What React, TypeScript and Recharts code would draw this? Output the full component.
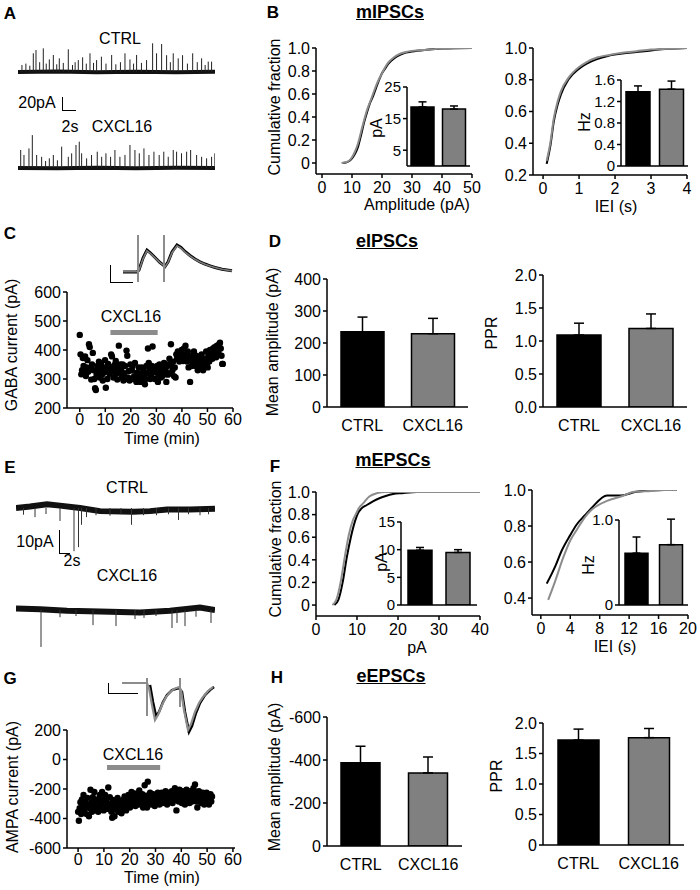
import React from 'react';
import {
  LineChart,
  Line,
  XAxis,
  YAxis,
  BarChart,
  Bar,
  Cell,
  ErrorBar,
  ScatterChart,
  Scatter,
  ReferenceLine,
} from 'recharts';

type Pt = [number, number];
type Frame = { x0: number; y0: number; x1: number; y1: number };

// ---------- data ----------
const groups = ['CTRL', 'CXCL16'];

// A: mIPSC traces, spikes as [time s, amplitude pA]
const ipscCtrlSpikes: Pt[] = [
  [0.6, 10], [1.2, 12], [1.8, 9], [2.33, 26.7], [2.74, 31.4], [3.3, 14], [3.85, 33.8], [4.3, 12],
  [4.77, 18], [5.38, 24.3], [5.9, 11], [6.29, 19.5], [6.9, 13], [7.66, 32.4], [8.3, 10], [8.7, 14],
  [9.18, 17], [9.84, 21], [10.4, 12], [10.96, 26.7], [11.5, 13], [11.97, 17], [12.7, 21.9], [13.4, 12],
  [14.26, 24.3], [14.9, 11], [15.6, 14], [16.29, 26.7], [17.05, 18], [17.6, 12], [18.06, 24.3], [18.8, 13],
  [19.58, 17], [20.5, 41], [21.1, 26.7], [21.87, 40], [22.63, 24], [23.2, 14], [23.64, 26.7], [24.4, 19.5],
  [25.06, 24], [25.8, 12], [26.6, 26.7], [27.3, 14], [27.96, 19.5], [28.5, 10], [28.97, 14.8], [29.48, 14.8],
];
const ipscCxclSpikes: Pt[] = [
  [0.41, 25.7], [0.91, 18.6], [1.67, 28], [2.18, 47], [2.84, 18.6], [3.6, 16], [4.2, 10], [4.77, 13.8],
  [5.38, 18.6], [6.0, 11], [6.65, 30.5], [7.66, 16], [8.17, 21], [8.83, 32.9], [9.33, 37.6], [9.69, 21],
  [10.45, 13.8], [11.2, 18.6], [12.07, 23.3], [12.74, 16], [13.39, 21], [14.1, 16], [14.76, 25.7], [15.52, 16],
  [16.29, 18.6], [17.05, 32.9], [17.81, 25.7], [18.47, 21], [19.18, 28], [19.94, 18.6], [20.7, 23.3], [21.5, 18.6],
  [22.2, 23.3], [22.88, 16], [23.64, 25.7], [24.15, 23.3], [24.9, 21], [25.68, 23.3], [26.29, 25.7], [27.2, 18.6],
  [27.96, 16], [28.72, 13.8], [29.48, 16], [29.98, 21],
];
const ipscCtrlBase: Pt[] = [[0, 0], [6, 0.6], [12, -0.4], [18, 0.3], [24, -0.3], [30, 0.2]];
const ipscCxclBase: Pt[] = [[0, 0], [6, -0.4], [12, 0.4], [18, -0.3], [24, 0.3], [30, 0]];

// B: mIPSC cumulative distributions [value, fraction]
const ipscAmpCtrl: Pt[] = [
  [7, 0], [8, 0.005], [9, 0.015], [10, 0.04], [11, 0.08], [12, 0.14], [13, 0.24], [14, 0.35], [15, 0.44],
  [16, 0.52], [17, 0.58], [18, 0.65], [19, 0.72], [20, 0.78], [21, 0.82], [22, 0.86], [24, 0.91], [26, 0.94],
  [28, 0.96], [30, 0.97], [35, 0.985], [40, 0.995], [50, 1],
];
const ipscAmpCxcl: Pt[] = [
  [6.5, 0], [7.5, 0.005], [9, 0.02], [10, 0.05], [11, 0.1], [12, 0.17], [13, 0.27], [14, 0.37], [15, 0.46],
  [16, 0.53], [17, 0.6], [18, 0.67], [19, 0.73], [20, 0.78], [21, 0.83], [22, 0.87], [24, 0.92], [26, 0.95],
  [28, 0.965], [30, 0.975], [35, 0.985], [40, 0.995], [50, 1],
];
const ipscIeiCtrl: Pt[] = [
  [0.1, 0.27], [0.2, 0.38], [0.3, 0.54], [0.4, 0.64], [0.5, 0.71], [0.7, 0.8], [1, 0.87], [1.2, 0.9],
  [1.5, 0.93], [1.8, 0.95], [2.2, 0.965], [2.6, 0.975], [3, 0.985], [3.5, 0.995], [4, 1],
];
const ipscIeiCxcl: Pt[] = [
  [0.1, 0.29], [0.2, 0.4], [0.3, 0.56], [0.4, 0.66], [0.5, 0.73], [0.7, 0.81], [1, 0.88], [1.2, 0.91],
  [1.5, 0.94], [1.8, 0.955], [2.2, 0.97], [2.6, 0.98], [3, 0.99], [3.5, 0.995], [4, 1],
];
const ipscAmpMean = [18.7, 18.0];
const ipscAmpSem = [1.6, 1.0];
const ipscFreqMean = [1.38, 1.43];
const ipscFreqSem = [0.11, 0.15];

// C: evoked IPSC example [ms, pA] and time course [min, pA]
const eipscCtrlTrace: Pt[] = [
  [0, 0], [14, 0], [16, 20], [20, 140], [24, 220], [27, 195], [32, 145], [37, 95], [40, 72], [42, 55],
  [45, 100], [49, 200], [54, 270], [58, 245], [62, 205], [67, 165], [72, 130], [77, 102], [82, 80],
  [87, 62], [92, 45], [99, 28], [109, 12],
];
const eipscCxclTrace: Pt[] = [
  [0, 2], [14, 2], [16, 18], [20, 132], [24, 212], [27, 190], [32, 141], [37, 93], [40, 71], [42, 53],
  [45, 96], [49, 193], [54, 263], [58, 239], [62, 199], [67, 161], [72, 127], [77, 100], [82, 78],
  [87, 60], [92, 44], [99, 27], [109, 11],
];
const eipscArtifact1: Pt[] = [[15, 370], [15, -100]];
const eipscArtifact2: Pt[] = [[41, 370], [41, -100]];
const gabaPoints: Pt[] = [
  [0, 452], [0.3, 385], [0.6, 316], [0.9, 330], [1.2, 372], [1.5, 345], [1.8, 320], [2.1, 378], [2.4, 310],
  [2.7, 340], [3, 365], [3.3, 325], [3.6, 420], [3.9, 410], [4.2, 335], [4.5, 298], [4.8, 350], [5.1, 390],
  [5.4, 330], [5.7, 300], [6, 268], [6.3, 262], [6.6, 315], [6.9, 345], [7.2, 325], [7.5, 360], [7.8, 305],
  [8.1, 330], [8.4, 350], [8.7, 315], [9, 295], [9.3, 340], [9.6, 322], [9.9, 365], [10.2, 270], [10.5, 335],
  [10.8, 300], [11.1, 352], [11.4, 345], [11.7, 318], [12, 330], [12.3, 385], [12.6, 378], [12.9, 340],
  [13.2, 305], [13.5, 325], [13.8, 350], [14.1, 362], [14.4, 318], [14.7, 298], [15, 340], [15.3, 415],
  [15.6, 322], [15.9, 350], [16.2, 335], [16.5, 305], [16.8, 350], [17.1, 295], [17.4, 320], [17.7, 345],
  [18, 300], [18.3, 398], [18.6, 380], [18.9, 305], [19.2, 328], [19.5, 295], [19.8, 350], [20.1, 300],
  [20.4, 330], [20.7, 345], [21, 300], [21.3, 310], [21.6, 355], [21.9, 300], [22.2, 290], [22.5, 322],
  [22.8, 300], [23.1, 340], [23.4, 305], [23.7, 290], [24, 318], [24.3, 340], [24.6, 300], [24.9, 330],
  [25.2, 310], [25.5, 282], [25.8, 300], [26.1, 345], [26.4, 320], [26.7, 405], [27, 355], [27.3, 330],
  [27.6, 300], [27.9, 315], [28.2, 345], [28.5, 412], [28.8, 325], [29.1, 340], [29.4, 300], [29.7, 322],
  [30, 330], [30.3, 345], [30.6, 290], [30.9, 315], [31.2, 350], [31.5, 330], [31.8, 305], [32.1, 340],
  [32.4, 310], [32.7, 325], [33, 355], [33.3, 318], [33.6, 330], [33.9, 290], [34.2, 345], [34.5, 315],
  [34.8, 350], [35.1, 370], [35.4, 320], [35.7, 420], [36, 345], [36.3, 330], [36.6, 360], [36.9, 310],
  [37.2, 340], [37.5, 305], [37.8, 385], [38.1, 370], [38.4, 395], [38.7, 380], [39, 360], [39.3, 390],
  [39.6, 375], [39.9, 400], [40.2, 385], [40.5, 362], [40.8, 405], [41.1, 375], [41.4, 415], [41.7, 385],
  [42, 360], [42.3, 395], [42.6, 340], [42.9, 375], [43.2, 290], [43.5, 365], [43.8, 345], [44.1, 380],
  [44.4, 350], [44.7, 395], [45, 370], [45.3, 345], [45.6, 380], [45.9, 355], [46.2, 330], [46.5, 360],
  [46.8, 340], [47.1, 375], [47.4, 350], [47.7, 385], [48, 345], [48.3, 330], [48.6, 365], [48.9, 345],
  [49.2, 370], [49.5, 395], [49.8, 355], [50.1, 340], [50.4, 380], [50.7, 360], [51, 400], [51.3, 375],
  [51.6, 392], [51.9, 370], [52.2, 405], [52.5, 385], [52.8, 410], [53.1, 395], [53.4, 375], [53.7, 415],
  [54, 400], [54.3, 390], [54.6, 420], [54.9, 425], [55.2, 405], [55.5, 380], [55.8, 352], [56, 352],
];
const gabaDrug = [12, 30.5];
const gabaDrugLevel = 460;

// D: eIPSC amplitude and paired-pulse ratio
const eipscAmpMean = [235, 229];
const eipscAmpSem = [46, 48];
const eipscPprMean = [1.09, 1.19];
const eipscPprSem = [0.18, 0.22];

// E: mEPSC traces [time s, pA]
const epscCtrlBase: Pt[] = [
  [0, 0], [2.8, 0.6], [6.2, 1.6], [8.8, 1.0], [12.8, 0], [16.8, -1.3], [23.4, -1.6], [26.8, -1.3],
  [30.2, -0.6], [34.8, -0.6], [39.8, -0.3],
];
const epscCtrlSpikes: Pt[] = [
  [1.5, -2.8], [3.8, -3.8], [6, -2.5], [8.8, -5.4], [11.6, -18], [12.5, -16.3], [13.1, -7], [14.1, -3.8],
  [16, -3], [18.8, -3.2], [21, -2.6], [23.1, -7], [25.5, -3], [28.1, -3], [30.5, -2.6], [32.5, -5],
  [34.5, -2.6], [36.8, -3], [38.5, -2.6],
];
const epscCxclBase: Pt[] = [
  [0, 0.6], [4.8, 0.3], [10.2, -0.3], [16.8, -0.6], [24.8, -1.0], [30.8, -0.3], [36.8, 1.0], [39.8, 0],
];
const epscCxclSpikes: Pt[] = [
  [5, -15.4], [8.8, -3], [12, -2.5], [15.4, -6.3], [20, -6.7], [23.8, -3.8], [25.6, -3.3], [28, -2.5],
  [31.2, -7.5], [32.2, -5.4], [33.8, -6.7], [36, -2.8], [39, -5.4],
];

// F: mEPSC cumulative distributions
const epscAmpCtrl: Pt[] = [
  [4.5, 0], [5.5, 0.05], [6.5, 0.2], [7.5, 0.42], [8.5, 0.6], [9.5, 0.74], [10.2, 0.81], [11, 0.85],
  [12.4, 0.885], [14, 0.92], [15.6, 0.947], [17, 0.965], [18.8, 0.982], [21, 0.99], [24.6, 1], [40, 1],
];
const epscAmpCxcl: Pt[] = [
  [4, 0], [5, 0.05], [6, 0.2], [7, 0.42], [8, 0.62], [9, 0.75], [9.8, 0.81], [10.5, 0.86], [11.5, 0.9],
  [13, 0.96], [14.9, 0.99], [17, 1], [40, 1],
];
const epscIeiCtrl: Pt[] = [
  [0.8, 0.48], [2, 0.58], [2.8, 0.66], [4, 0.75], [4.9, 0.81], [6, 0.86], [6.9, 0.9], [9, 0.97],
  [10.9, 0.97], [13, 0.99], [16.5, 1], [18.5, 1],
];
const epscIeiCxcl: Pt[] = [
  [1, 0.39], [2, 0.5], [3, 0.62], [4, 0.72], [4.9, 0.78], [6, 0.85], [6.9, 0.89], [9, 0.94],
  [11, 0.965], [12.7, 0.99], [15, 0.995], [16.8, 1], [18.5, 1],
];
const epscAmpMean = [9.9, 9.5];
const epscAmpSem = [0.5, 0.5];
const epscFreqMean = [0.61, 0.71];
const epscFreqSem = [0.19, 0.3];

// G: evoked EPSC example and time course
const eepscCxclTrace: Pt[] = [
  [0, 0], [25, 0], [27, -50], [30, -220], [33, -370], [36, -320], [40, -220], [44, -140], [48, -90],
  [52, -60], [57, -40], [59, -70], [62, -270], [66, -470], [69, -410], [73, -290], [77, -200], [81, -140],
  [86, -80], [91, -40],
];
const eepscCtrlTrace: Pt[] = [
  [28, -20], [31, -190], [34, -330], [37, -290], [41, -190], [45, -120], [50, -70], [57, -50], [60, -90],
  [63, -290], [67, -490], [70, -430], [74, -300], [78, -200], [83, -120], [88, -70], [92, -40],
];
const eepscArtifact1: Pt[] = [[25, 50], [25, -330]];
const eepscArtifact2: Pt[] = [[58, 50], [58, -240]];
const ampaPoints: Pt[] = [
  [0, -355], [0.3, -415], [0.6, -330], [0.9, -290], [1.2, -370], [1.5, -270], [1.8, -320], [2.1, -240],
  [2.4, -340], [2.7, -290], [3, -300], [3.3, -370], [3.6, -260], [3.9, -310], [4.2, -385], [4.5, -330],
  [4.8, -205], [5.1, -290], [5.4, -355], [5.7, -255], [6, -300], [6.3, -220], [6.6, -325], [6.9, -275],
  [7.2, -345], [7.5, -300], [7.8, -355], [8.1, -265], [8.4, -240], [8.7, -325], [9, -290], [9.3, -220],
  [9.6, -300], [9.9, -345], [10.2, -270], [10.5, -240], [10.8, -310], [11.1, -290], [11.4, -335],
  [11.7, -190], [12, -300], [12.3, -255], [12.6, -325], [12.9, -355], [13.2, -395], [13.5, -275],
  [13.8, -310], [14.1, -385], [14.4, -340], [14.7, -285], [15, -320], [15.3, -260], [15.6, -355],
  [15.9, -300], [16.2, -335], [16.5, -285], [16.8, -365], [17.1, -310], [17.4, -275], [17.7, -335],
  [18, -250], [18.3, -300], [18.6, -345], [18.9, -275], [19.2, -315], [19.5, -240], [19.8, -290],
  [20.1, -325], [20.4, -265], [20.7, -220], [21, -300], [21.3, -255], [21.6, -285], [21.9, -230],
  [22.2, -315], [22.5, -265], [22.8, -295], [23.1, -245], [23.4, -305], [23.7, -210], [24, -280],
  [24.3, -255], [24.6, -305], [24.9, -235], [25.2, -325], [25.5, -265], [25.8, -175], [26.1, -295],
  [26.4, -245], [26.7, -325], [27, -150], [27.3, -270], [27.6, -305], [27.9, -225], [28.2, -285],
  [28.5, -255], [28.8, -305], [29.1, -235], [29.4, -285], [29.7, -315], [30, -245], [30.3, -295],
  [30.6, -255], [30.9, -225], [31.2, -285], [31.5, -305], [31.8, -245], [32.1, -275], [32.4, -225],
  [32.7, -295], [33, -255], [33.3, -235], [33.6, -285], [33.9, -215], [34.2, -265], [34.5, -305],
  [34.8, -235], [35.1, -275], [35.4, -225], [35.7, -285], [36, -245], [36.3, -215], [36.6, -295],
  [36.9, -255], [37.2, -235], [37.5, -195], [37.8, -275], [38.1, -345], [38.4, -245], [38.7, -225],
  [39, -285], [39.3, -205], [39.6, -265], [39.9, -235], [40.2, -295], [40.5, -215], [40.8, -265],
  [41.1, -235], [41.4, -305], [41.7, -245], [42, -205], [42.3, -275], [42.6, -225], [42.9, -265],
  [43.2, -295], [43.5, -215], [43.8, -255], [44.1, -285], [44.4, -235], [44.7, -195], [45, -265],
  [45.3, -170], [45.6, -225], [45.9, -285], [46.2, -325], [46.5, -245], [46.8, -215], [47.1, -275],
  [47.4, -235], [47.7, -295], [48, -255], [48.3, -225], [48.6, -275], [48.9, -305], [49.2, -245],
  [49.5, -285], [49.8, -225], [50.1, -275], [50.4, -245], [50.7, -305], [51, -255], [51.3, -235],
  [51.6, -285], [51.9, -250],
];
const ampaDrug = [11.2, 31.8];
const ampaDrugLevel = -54;

// H: eEPSC amplitude and PPR
const eepscAmpMean = [-387, -340];
const eepscAmpSem = [77, 74];
const eepscPprMean = [1.72, 1.76];
const eepscPprSem = [0.18, 0.15];

const timeTicks = [0, 10, 20, 30, 40, 50, 60];

// ---------- helpers ----------
const FONT = '"Liberation Sans", Arial, Helvetica, sans-serif';
const LINE_GRAY = '#8c8c8c';
const BAR_GRAY = '#808080';
const M = { top: 10, right: 14, bottom: 0, left: 0 };
const axisLine = { stroke: '#000', strokeWidth: 1.5 };
const tickLine = { stroke: '#000', strokeWidth: 1.5 };
const tickFont = (size: number) => ({ fill: '#000', fontSize: size, fontFamily: FONT });
const fix1 = (v: number) => (v === 0 ? '0' : v.toFixed(1));
const fix1z = (v: number) => v.toFixed(1);

const toLine = (pts: Pt[]) => pts.map(([t, v]) => ({ t, v }));
const toSpikes = (pts: Pt[]) =>
  pts.flatMap(([t, a]) => [{ t, v: 0 }, { t, v: a }, { t, v: null }]);

function boxOf(f: Frame, yw: number, xh: number) {
  return {
    left: f.x0 - yw,
    top: f.y0 - M.top,
    width: f.x1 - f.x0 + yw + M.right,
    height: f.y1 - f.y0 + M.top + xh,
  };
}

function Txt({ x, y, children, size = 16, bold = false, underline = false, rotate = false }: any) {
  return (
    <div
      style={{
        position: 'absolute',
        left: x,
        top: y,
        transform: `translate(-50%, -50%)${rotate ? ' rotate(-90deg)' : ''}`,
        fontSize: size,
        fontWeight: bold ? 700 : 400,
        textDecoration: underline ? 'underline' : 'none',
        whiteSpace: 'nowrap',
        lineHeight: 1,
        color: '#000',
      }}
    >
      {children}
    </div>
  );
}

function ScaleBar({ x, y0, y1, x1 }: { x: number; y0: number; y1: number; x1: number }) {
  return (
    <div
      style={{
        position: 'absolute',
        left: x,
        top: y0,
        width: x1 - x,
        height: y1 - y0,
        borderLeft: '1.5px solid #000',
        borderBottom: '1.5px solid #000',
      }}
    />
  );
}

type Series = { data: any[]; stroke: string; width: number };

function TraceChart({ frame, xDomain, yDomain, series }: { frame: Frame; xDomain: number[]; yDomain: number[]; series: Series[] }) {
  return (
    <div style={{ position: 'absolute', left: frame.x0, top: frame.y0 }}>
      <LineChart width={frame.x1 - frame.x0} height={frame.y1 - frame.y0} margin={{ top: 0, right: 0, bottom: 0, left: 0 }}>
        <XAxis type="number" dataKey="t" domain={xDomain} hide allowDataOverflow />
        <YAxis type="number" domain={yDomain} hide allowDataOverflow />
        {series.map((s, i) => (
          <Line
            key={i}
            data={s.data}
            dataKey="v"
            type="linear"
            stroke={s.stroke}
            strokeWidth={s.width}
            dot={false}
            connectNulls={false}
            isAnimationActive={false}
          />
        ))}
      </LineChart>
    </div>
  );
}

function CumChart({ frame, xDomain, xTicks, yDomain, yTicks, black, gray }: any) {
  const yw = 46;
  const xh = 30;
  const b = boxOf(frame, yw, xh);
  return (
    <div style={{ position: 'absolute', left: b.left, top: b.top }}>
      <LineChart width={b.width} height={b.height} margin={M}>
        <XAxis
          type="number"
          dataKey="x"
          domain={xDomain}
          ticks={xTicks}
          interval={0}
          allowDataOverflow
          height={xh}
          axisLine={axisLine}
          tickLine={tickLine}
          tickSize={4}
          tickMargin={4}
          tick={tickFont(16)}
        />
        <YAxis
          type="number"
          domain={yDomain}
          ticks={yTicks}
          interval={0}
          allowDataOverflow
          width={yw}
          tickFormatter={fix1}
          axisLine={axisLine}
          tickLine={tickLine}
          tickSize={4}
          tickMargin={2}
          tick={tickFont(16)}
        />
        <Line data={black.map(([x, y]: Pt) => ({ x, y }))} dataKey="y" type="monotone" stroke="#000" strokeWidth={2} dot={false} isAnimationActive={false} />
        <Line data={gray.map(([x, y]: Pt) => ({ x, y }))} dataKey="y" type="monotone" stroke={LINE_GRAY} strokeWidth={2} dot={false} isAnimationActive={false} />
      </LineChart>
    </div>
  );
}

function BarPanel({ frame, means, sems, domain, ticks, fmt, barSize, inset = false, reversed = false }: any) {
  const yw = inset ? 34 : 48;
  const xh = inset ? 12 : 30;
  const b = boxOf(frame, yw, xh);
  const data = groups.map((g, i) => ({
    name: g,
    v: means[i],
    err: means[i] < 0 ? [sems[i], 0] : [0, sems[i]],
  }));
  return (
    <div style={{ position: 'absolute', left: b.left, top: b.top }}>
      <BarChart width={b.width} height={b.height} data={data} margin={M}>
        <XAxis
          dataKey="name"
          type="category"
          height={xh}
          interval={0}
          tick={inset ? false : tickFont(16)}
          tickLine={false}
          tickSize={4}
          tickMargin={9}
          axisLine={axisLine}
        />
        <YAxis
          type="number"
          domain={domain}
          ticks={ticks}
          interval={0}
          reversed={reversed}
          allowDataOverflow
          width={yw}
          tickFormatter={fmt}
          axisLine={axisLine}
          tickLine={tickLine}
          tickSize={4}
          tickMargin={2}
          tick={tickFont(inset ? 15 : 16)}
        />
        <Bar dataKey="v" barSize={barSize} stroke="#000" strokeWidth={1.5} isAnimationActive={false}>
          {data.map((d, i) => (
            <Cell key={d.name} fill={i === 0 ? '#000' : BAR_GRAY} />
          ))}
          <ErrorBar dataKey="err" width={inset ? 4 : 5} stroke="#000" strokeWidth={1.5} direction="y" />
        </Bar>
      </BarChart>
    </div>
  );
}

const Dot = (p: any) => <circle cx={p.cx} cy={p.cy} r={3.2} fill="#000" />;

function TimeCourse({ frame, xDomain, points, yDomain, yTicks, drug, drugLevel }: any) {
  const yw = 48;
  const xh = 24;
  const b = boxOf(frame, yw, xh);
  const data = points.map(([t, v]: Pt) => ({ t, v }));
  return (
    <div style={{ position: 'absolute', left: b.left, top: b.top }}>
      <ScatterChart width={b.width} height={b.height} margin={M}>
        <XAxis
          type="number"
          dataKey="t"
          domain={xDomain}
          ticks={timeTicks}
          interval={0}
          allowDataOverflow
          height={xh}
          axisLine={axisLine}
          tickLine={tickLine}
          tickSize={4}
          tickMargin={2}
          tick={tickFont(16)}
        />
        <YAxis
          type="number"
          dataKey="v"
          domain={yDomain}
          ticks={yTicks}
          interval={0}
          allowDataOverflow
          width={yw}
          axisLine={axisLine}
          tickLine={tickLine}
          tickSize={4}
          tickMargin={2}
          tick={tickFont(16)}
        />
        <ReferenceLine
          segment={[{ x: drug[0], y: drugLevel }, { x: drug[1], y: drugLevel }]}
          stroke={LINE_GRAY}
          strokeWidth={5}
        />
        <Scatter data={data} shape={Dot} isAnimationActive={false} />
      </ScatterChart>
    </div>
  );
}

// ---------- figure ----------
export default function App() {
  return (
    <div style={{ position: 'absolute', left: 0, top: 0, width: 700, height: 890, background: '#fff', fontFamily: FONT }}>
      {/* A */}
      <Txt x={10} y={13} size={17} bold>A</Txt>
      <Txt x={120} y={39}>CTRL</Txt>
      <TraceChart
        frame={{ x0: 18, y0: 40, x1: 215, y1: 80 }}
        xDomain={[0, 30]}
        yDomain={[-11.43, 45.71]}
        series={[
          { data: toLine(ipscCtrlBase), stroke: '#111', width: 4 },
          { data: toSpikes(ipscCtrlSpikes), stroke: '#222', width: 1 },
        ]}
      />
      <Txt x={37} y={103}>20pA</Txt>
      <ScaleBar x={62} y0={97} y1={110} x1={75} />
      <Txt x={70} y={127}>2s</Txt>
      <Txt x={122} y={127}>CXCL16</Txt>
      <TraceChart
        frame={{ x0: 18, y0: 130, x1: 215, y1: 178 }}
        xDomain={[0, 30]}
        yDomain={[-14.3, 54.3]}
        series={[
          { data: toLine(ipscCxclBase), stroke: '#111', width: 4 },
          { data: toSpikes(ipscCxclSpikes), stroke: '#222', width: 1 },
        ]}
      />

      {/* B */}
      <Txt x={273} y={12} size={17} bold>B</Txt>
      <Txt x={390} y={12} size={18} bold underline>mIPSCs</Txt>
      <Txt x={275} y={107} rotate>Cumulative fraction</Txt>
      <CumChart
        frame={{ x0: 316, y0: 48, x1: 472, y1: 174 }}
        xDomain={[-2, 50]}
        xTicks={[0, 10, 20, 30, 40, 50]}
        yDomain={[-0.0957, 1]}
        yTicks={[0, 0.2, 0.4, 0.6, 0.8, 1]}
        black={ipscAmpCtrl}
        gray={ipscAmpCxcl}
      />
      <BarPanel
        frame={{ x0: 407, y0: 87, x1: 470, y1: 166 }}
        means={ipscAmpMean}
        sems={ipscAmpSem}
        domain={[0, 25]}
        ticks={[5, 15, 25]}
        barSize={23}
        inset
      />
      <Txt x={377} y={128} rotate>pA</Txt>
      <Txt x={417} y={205}>Amplitude (pA)</Txt>
      <CumChart
        frame={{ x0: 533, y0: 48, x1: 687, y1: 175 }}
        xDomain={[-0.28, 4]}
        xTicks={[0, 1, 2, 3, 4]}
        yDomain={[0.2, 1]}
        yTicks={[0.2, 0.4, 0.6, 0.8, 1]}
        black={ipscIeiCtrl}
        gray={ipscIeiCxcl}
      />
      <BarPanel
        frame={{ x0: 621, y0: 80, x1: 688, y1: 166 }}
        means={ipscFreqMean}
        sems={ipscFreqSem}
        domain={[0, 1.6]}
        ticks={[0, 0.4, 0.8, 1.2, 1.6]}
        fmt={fix1}
        barSize={24}
        inset
      />
      <Txt x={585} y={122} rotate>Hz</Txt>
      <Txt x={616} y={207}>IEI (s)</Txt>

      {/* C */}
      <Txt x={10} y={233} size={17} bold>C</Txt>
      <ScaleBar x={110} y0={265} y1={282} x1={132} />
      <TraceChart
        frame={{ x0: 100, y0: 230, x1: 240, y1: 290 }}
        xDomain={[-23, 117]}
        yDomain={[-180, 420]}
        series={[
          { data: toLine(eipscCtrlTrace), stroke: '#000', width: 3 },
          { data: toLine(eipscCxclTrace), stroke: '#7a7a7a', width: 1.6 },
          { data: toLine(eipscArtifact1), stroke: LINE_GRAY, width: 2 },
          { data: toLine(eipscArtifact2), stroke: LINE_GRAY, width: 2 },
        ]}
      />
      <Txt x={12} y={345} rotate>GABA current (pA)</Txt>
      <Txt x={131} y={317}>CXCL16</Txt>
      <TimeCourse
        frame={{ x0: 67, y0: 292, x1: 233, y1: 408 }}
        xDomain={[-5, 60]}
        points={gabaPoints}
        yDomain={[200, 600]}
        yTicks={[200, 300, 400, 500, 600]}
        drug={gabaDrug}
        drugLevel={gabaDrugLevel}
      />
      <Txt x={162} y={439}>Time (min)</Txt>

      {/* D */}
      <Txt x={275} y={241} size={17} bold>D</Txt>
      <Txt x={387} y={241} size={18} bold underline>eIPSCs</Txt>
      <Txt x={273} y={342} rotate>Mean amplitude (pA)</Txt>
      <BarPanel
        frame={{ x0: 327, y0: 279, x1: 468, y1: 407 }}
        means={eipscAmpMean}
        sems={eipscAmpSem}
        domain={[0, 400]}
        ticks={[0, 100, 200, 300, 400]}
        barSize={43}
      />
      <Txt x={492} y={333} rotate>PPR</Txt>
      <BarPanel
        frame={{ x0: 543, y0: 275, x1: 687, y1: 407 }}
        means={eipscPprMean}
        sems={eipscPprSem}
        domain={[0, 2]}
        ticks={[0, 0.5, 1, 1.5, 2]}
        fmt={fix1z}
        barSize={44}
      />

      {/* E */}
      <Txt x={10} y={467} size={17} bold>E</Txt>
      <Txt x={127} y={488}>CTRL</Txt>
      <TraceChart
        frame={{ x0: 16, y0: 495, x1: 215, y1: 555 }}
        xDomain={[0, 39.8]}
        yDomain={[-19.58, 5.42]}
        series={[
          { data: toLine(epscCtrlBase), stroke: '#111', width: 6 },
          { data: toSpikes(epscCtrlSpikes), stroke: '#333', width: 1 },
        ]}
      />
      <Txt x={35} y={542}>10pA</Txt>
      <ScaleBar x={59} y0={530} y1={553} x1={69} />
      <Txt x={72} y={561}>2s</Txt>
      <Txt x={127} y={576}>CXCL16</Txt>
      <TraceChart
        frame={{ x0: 16, y0: 598, x1: 215, y1: 652 }}
        xDomain={[0, 39.8]}
        yDomain={[-17.5, 5]}
        series={[
          { data: toLine(epscCxclBase), stroke: '#111', width: 6 },
          { data: toSpikes(epscCxclSpikes), stroke: '#333', width: 1 },
        ]}
      />

      {/* F */}
      <Txt x={275} y={466} size={17} bold>F</Txt>
      <Txt x={393} y={460} size={18} bold underline>mEPSCs</Txt>
      <Txt x={276} y={549} rotate>Cumulative fraction</Txt>
      <CumChart
        frame={{ x0: 316, y0: 492, x1: 480, y1: 616 }}
        xDomain={[0, 40]}
        xTicks={[0, 10, 20, 30, 40]}
        yDomain={[-0.097, 1]}
        yTicks={[0, 0.2, 0.4, 0.6, 0.8, 1]}
        black={epscAmpCtrl}
        gray={epscAmpCxcl}
      />
      <BarPanel
        frame={{ x0: 401, y0: 522, x1: 477, y1: 605 }}
        means={epscAmpMean}
        sems={epscAmpSem}
        domain={[0, 15]}
        ticks={[0, 5, 10, 15]}
        barSize={24}
        inset
      />
      <Txt x={382} y={562} rotate>pA</Txt>
      <Txt x={417} y={648}>pA</Txt>
      <CumChart
        frame={{ x0: 532, y0: 490, x1: 688, y1: 615 }}
        xDomain={[-1.2, 20]}
        xTicks={[0, 4, 8, 12, 16, 20]}
        yDomain={[0.306, 1]}
        yTicks={[0.4, 0.6, 0.8, 1]}
        black={epscIeiCtrl}
        gray={epscIeiCxcl}
      />
      <BarPanel
        frame={{ x0: 619, y0: 520, x1: 688, y1: 605 }}
        means={epscFreqMean}
        sems={epscFreqSem}
        domain={[0, 1]}
        ticks={[0, 1]}
        fmt={fix1}
        barSize={23}
        inset
      />
      <Txt x={589} y={565} rotate>Hz</Txt>
      <Txt x={615} y={647}>IEI (s)</Txt>

      {/* G */}
      <Txt x={10} y={678} size={17} bold>G</Txt>
      <ScaleBar x={108} y0={683} y1={693} x1={137} />
      <TraceChart
        frame={{ x0: 100, y0: 672, x1: 240, y1: 740 }}
        xDomain={[-22, 118]}
        yDomain={[-570, 110]}
        series={[
          { data: toLine(eepscCtrlTrace), stroke: '#000', width: 2.5 },
          { data: toLine(eepscCxclTrace), stroke: LINE_GRAY, width: 2.2 },
          { data: toLine(eepscArtifact1), stroke: LINE_GRAY, width: 2 },
          { data: toLine(eepscArtifact2), stroke: LINE_GRAY, width: 2 },
        ]}
      />
      <Txt x={13} y={787} rotate>AMPA current (pA)</Txt>
      <Txt x={133} y={755}>CXCL16</Txt>
      <TimeCourse
        frame={{ x0: 67, y0: 730, x1: 235, y1: 848 }}
        xDomain={[-4.3, 60.8]}
        points={ampaPoints}
        yDomain={[-600, 200]}
        yTicks={[-600, -400, -200, 0, 200]}
        drug={ampaDrug}
        drugLevel={ampaDrugLevel}
      />
      <Txt x={162} y={878}>Time (min)</Txt>

      {/* H */}
      <Txt x={277} y={677} size={17} bold>H</Txt>
      <Txt x={391} y={676} size={18} bold underline>eEPSCs</Txt>
      <Txt x={275} y={777} rotate>Mean amplitude (pA)</Txt>
      <BarPanel
        frame={{ x0: 327, y0: 717, x1: 462, y1: 846 }}
        means={eepscAmpMean}
        sems={eepscAmpSem}
        domain={[-600, 0]}
        ticks={[-600, -400, -200, 0]}
        barSize={39}
        reversed
      />
      <Txt x={497} y={776} rotate>PPR</Txt>
      <BarPanel
        frame={{ x0: 543, y0: 723, x1: 684, y1: 845 }}
        means={eepscPprMean}
        sems={eepscPprSem}
        domain={[0, 2]}
        ticks={[0, 0.5, 1, 1.5, 2]}
        fmt={fix1}
        barSize={41}
      />
    </div>
  );
}
